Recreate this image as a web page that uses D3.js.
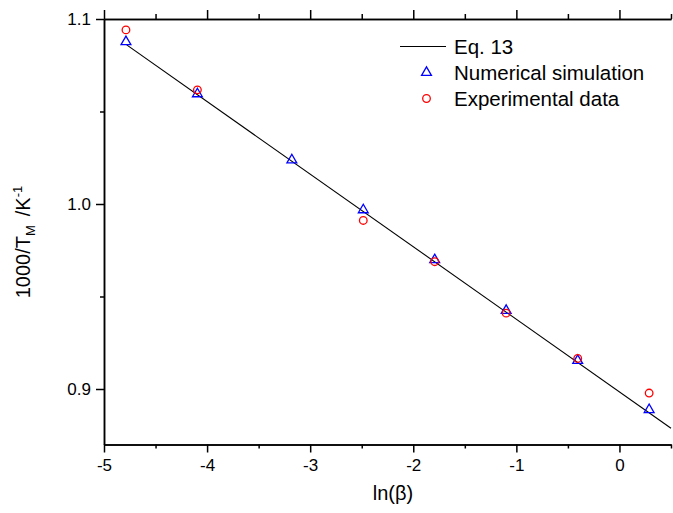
<!DOCTYPE html>
<html>
<head>
<meta charset="utf-8">
<script src="https://cdn.jsdelivr.net/npm/d3@7"></script>
<style>
  body { margin: 0; background: #fff; }
  text { font-family: "Liberation Sans", Arial, sans-serif; fill: #000; }
  .axis path, .axis line { stroke: #000; stroke-width: 1.5px; }
</style>
</head>
<body>
<script>
// data
var simX = [-4.787, -4.094, -3.178, -2.485, -1.792, -1.099, -0.405, 0.288];
var simT = [1.0877, 1.0595, 1.0238, 0.9968, 0.9698, 0.9424, 0.9154, 0.8888];
var expX = [-4.787, -4.094, -2.485, -1.792, -1.099, -0.405, 0.288];
var expT = [1.0941, 1.0617, 0.9911, 0.9688, 0.9410, 0.9165, 0.8978];
var eqX = [-4.78, 0.5];
var eqT = [1.086, 0.8788];
var xMajor = [-5, -4, -3, -2, -1, 0];
var xMinor = [-4.5, -3.5, -2.5, -1.5, -0.5, 0.5];
var yMajor = [0.9, 1.0, 1.1];
var yMinor = [0.95, 1.05];
var legendLabels = ['Eq. 13', 'Numerical simulation', 'Experimental data'];

var W = 673, H = 513;
var svg = d3.select('body').append('svg').attr('width', W).attr('height', H);

var x = d3.scaleLinear().domain([-5, 0.5]).range([104, 671]);
var y = d3.scaleLinear().domain([0.87, 1.1]).range([444.5, 19]);

// bottom axis (plain hyphen for minus, like the original)
svg.append('g').attr('class', 'axis').attr('transform', 'translate(0,444.5)')
    .call(d3.axisBottom(x).tickValues(xMajor).tickSize(8).tickSizeOuter(0).tickPadding(6)
        .tickFormat(function (d) { return String(d); }))
    .selectAll('text').attr('font-size', '17px').attr('font-family', 'Liberation Sans');
svg.append('g').attr('class', 'axis').attr('transform', 'translate(0,444.5)')
    .call(d3.axisBottom(x).tickValues(xMinor).tickSize(4).tickSizeOuter(0).tickFormat(''));

// top axis, no labels
svg.append('g').attr('class', 'axis').attr('transform', 'translate(0,19)')
    .call(d3.axisTop(x).tickValues(xMajor).tickSize(9).tickSizeOuter(0).tickFormat(''));
svg.append('g').attr('class', 'axis').attr('transform', 'translate(0,19)')
    .call(d3.axisTop(x).tickValues(xMinor).tickSize(5).tickSizeOuter(0).tickFormat(''));

// left axis
svg.append('g').attr('class', 'axis').attr('transform', 'translate(104,0)')
    .call(d3.axisLeft(y).tickValues(yMajor).tickSize(8).tickSizeOuter(0).tickPadding(5)
        .tickFormat(d3.format('.1f')))
    .selectAll('text').attr('font-size', '17px').attr('font-family', 'Liberation Sans');
svg.append('g').attr('class', 'axis').attr('transform', 'translate(104,0)')
    .call(d3.axisLeft(y).tickValues(yMinor).tickSize(4).tickSizeOuter(0).tickFormat(''));

svg.selectAll('.axis text').attr('fill', '#000');

// axis titles
svg.append('text').attr('x', 393).attr('y', 500).attr('text-anchor', 'middle')
    .attr('font-size', '20px').text('ln(β)');

var yt = svg.append('text').attr('transform', 'translate(30,242) rotate(-90)')
    .attr('text-anchor', 'middle').attr('font-size', '20px');
yt.append('tspan').text('1000/T');
yt.append('tspan').attr('font-size', '13px').attr('dy', 5).text('M');
yt.append('tspan').attr('dy', -5).attr('dx', 9).text('/K');
yt.append('tspan').attr('font-size', '13px').attr('dy', -8).text('-1');

// Eq. 13 line
var line = d3.line().x(function (d) { return x(d[0]); }).y(function (d) { return y(d[1]); });
svg.append('path').datum(d3.zip(eqX, eqT)).attr('d', line)
    .attr('fill', 'none').attr('stroke', '#000').attr('stroke-width', 1.1);

var tri = d3.symbol().type(d3.symbolTriangle).size(42);

svg.append('g').selectAll('path').data(d3.zip(simX, simT)).enter().append('path')
    .attr('d', tri)
    .attr('transform', function (d) { return 'translate(' + x(d[0]) + ',' + y(d[1]) + ')'; })
    .attr('fill', 'none').attr('stroke', '#0000ff').attr('stroke-width', 1.3);

svg.append('g').selectAll('circle').data(d3.zip(expX, expT)).enter().append('circle')
    .attr('cx', function (d) { return x(d[0]); })
    .attr('cy', function (d) { return y(d[1]); })
    .attr('r', 3.8)
    .attr('fill', 'none').attr('stroke', '#ff0000').attr('stroke-width', 1.3);

// legend
var lg = svg.append('g').attr('transform', 'translate(400,0)');
lg.append('line').attr('x1', 0).attr('x2', 46).attr('y1', 46.5).attr('y2', 46.5)
    .attr('stroke', '#000').attr('stroke-width', 1.1);
lg.append('path').attr('d', tri).attr('transform', 'translate(26.5,72.5)')
    .attr('fill', 'none').attr('stroke', '#0000ff').attr('stroke-width', 1.3);
lg.append('circle').attr('cx', 26.5).attr('cy', 98.5).attr('r', 3.8)
    .attr('fill', 'none').attr('stroke', '#ff0000').attr('stroke-width', 1.3);
lg.selectAll('text.lab').data(legendLabels).enter().append('text').attr('class', 'lab')
    .attr('x', 54).attr('y', function (d, i) { return 53.5 + i * 26; })
    .attr('font-size', '20.5px').text(function (d) { return d; });
</script>
</body>
</html>
